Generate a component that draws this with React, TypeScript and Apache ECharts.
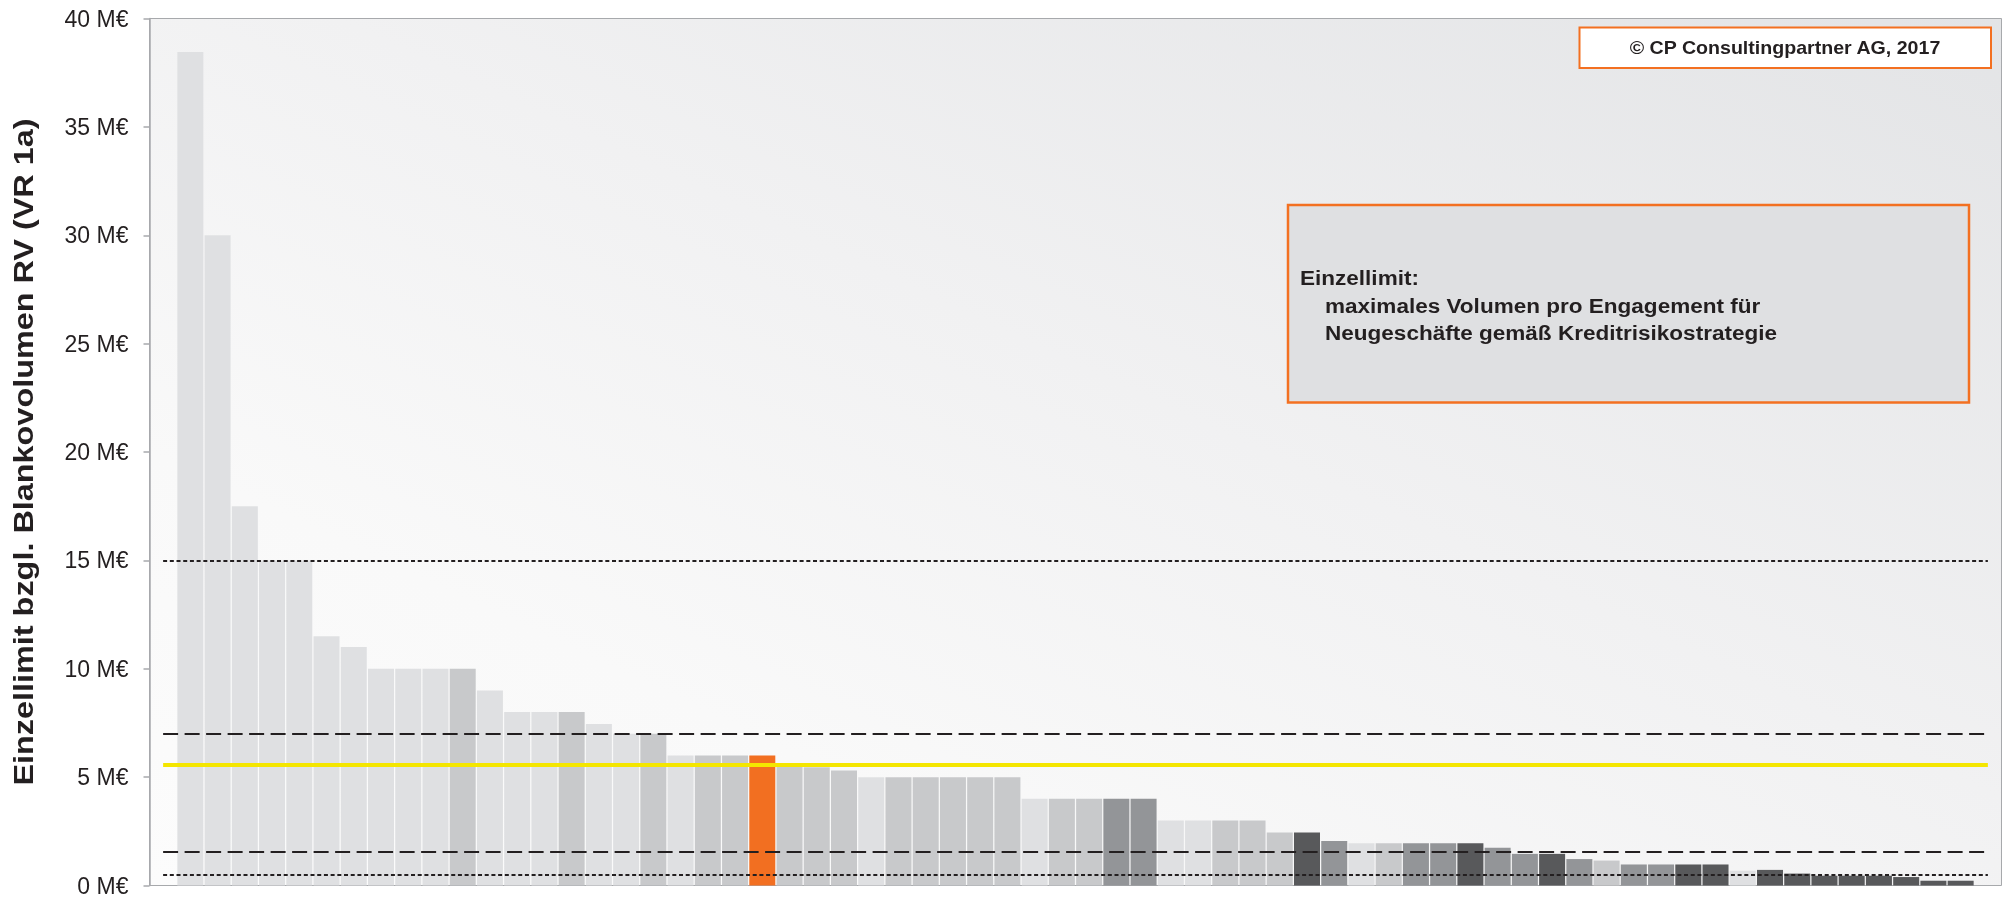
import { useEffect, useRef } from "react";
import * as echarts from "echarts";

// Engagements ranked by single limit (Einzellimit), in M€
const ranks = [
  "1", "2", "3", "4", "5", "6", "7", "8", "9", "10",
  "11", "12", "13", "14", "15", "16", "17", "18", "19", "20",
  "21", "22", "23", "24", "25", "26", "27", "28", "29", "30",
  "31", "32", "33", "34", "35", "36", "37", "38", "39", "40",
  "41", "42", "43", "44", "45", "46", "47", "48", "49", "50",
  "51", "52", "53", "54", "55", "56", "57", "58", "59", "60",
  "61", "62", "63", "64", "65", "66",
];

const limits = [
  38.45, 30, 17.5, 15, 15, 11.5, 11, 10, 10, 10,
  10, 9, 8, 8, 8, 7.45, 7, 7, 6, 6,
  6, 6, 5.6, 5.45, 5.3, 5, 5, 5, 5, 5,
  5, 4, 4, 4, 4, 4, 3, 3, 3, 3,
  2.45, 2.45, 2.05, 1.95, 1.95, 1.95, 1.95, 1.95, 1.74, 1.46,
  1.46, 1.22, 1.15, 0.97, 0.97, 0.97, 0.97, 0.68, 0.72, 0.55,
  0.45, 0.45, 0.45, 0.39, 0.22, 0.22,
];

// Shade group per engagement: L light, M medium, D dark, K darkest, O highlighted
const shades = [
  "L", "L", "L", "L", "L", "L", "L", "L", "L", "L",
  "M", "L", "L", "L", "M", "L", "L", "M", "L", "M",
  "M", "O", "M", "M", "M", "L", "M", "M", "M", "M",
  "M", "L", "M", "M", "D", "D", "L", "L", "M", "M",
  "M", "K", "D", "L", "M", "D", "D", "K", "D", "D",
  "K", "D", "M", "D", "D", "K", "K", "L", "K", "K",
  "K", "K", "K", "K", "K", "K",
];

const yTicks = [0, 5, 10, 15, 20, 25, 30, 35, 40];

// Reference levels across the chart
const dottedLevels = [15, 0.5];
const dashedLevels = [7, 1.55];
const meanLevel = 5.55;

const shadeColors: Record<string, string> = {
  L: "#dfe0e2",
  M: "#c8c9cb",
  D: "#939598",
  K: "#58595b",
  O: "#f26f21",
};

const yTitle = "Einzellimit bzgl. Blankovolumen RV (VR 1a)";
const copyrightText = "© CP Consultingpartner AG, 2017";
const noteTitle = "Einzellimit:";
const noteLines = [
  "maximales Volumen pro Engagement für",
  "Neugeschäfte gemäß Kreditrisikostrategie",
];

const FONT = "'Liberation Sans', Arial, Helvetica, sans-serif";

export default function App() {
  const ref = useRef<HTMLDivElement>(null);

  useEffect(() => {
    if (!ref.current) return;
    const chart = echarts.init(ref.current, null, { renderer: "svg" });

    // one empty slot at each end leaves room before the first and after the last bar
    const slots = [" ", ...ranks, "  "];
    const lastSlot = slots.length - 1;

    const barData: any[] = [
      "-",
      ...limits.map((v, i) => ({
        value: v,
        itemStyle: { color: shadeColors[shades[i]] },
      })),
      "-",
    ];

    const levelLine = (value: number, lineStyle: any) => [
      { coord: [0, value], lineStyle },
      { coord: [lastSlot, value] },
    ];

    const markLines = [
      ...dottedLevels.map((v) =>
        levelLine(v, { color: "#231f20", width: 2, type: [4, 2.7] })
      ),
      ...dashedLevels.map((v) =>
        levelLine(v, { color: "#231f20", width: 2.2, type: [15, 6.5] })
      ),
      levelLine(meanLevel, { color: "#f4e600", width: 4, type: "solid" }),
    ];

    const boldText = (
      text: string,
      x: number,
      y: number,
      fontSize: number,
      scaleX: number,
      align: string
    ) => ({
      type: "text",
      x,
      y,
      scaleX,
      style: {
        text,
        fontSize,
        fontWeight: "bold",
        fontFamily: FONT,
        fill: "#231f20",
        align,
        verticalAlign: "middle",
      },
    });

    chart.setOption({
      animation: false,
      grid: {
        left: 149.5,
        top: 18.5,
        width: 1852,
        height: 868,
        show: true,
        borderColor: "#a7a9ac",
        borderWidth: 1,
        backgroundColor: {
          type: "linear",
          x: 1,
          y: 0,
          x2: 0,
          y2: 1,
          colorStops: [
            { offset: 0, color: "#e3e4e6" },
            { offset: 0.45, color: "#f1f1f2" },
            { offset: 0.75, color: "#f9f9f9" },
            { offset: 1, color: "#fcfcfc" },
          ],
        },
      },
      xAxis: {
        type: "category",
        data: slots,
        boundaryGap: true,
        axisLine: { show: false },
        axisTick: { show: false },
        axisLabel: { show: false },
        splitLine: { show: false },
      },
      yAxis: {
        type: "value",
        min: yTicks[0],
        max: yTicks[yTicks.length - 1],
        interval: yTicks[1] - yTicks[0],
        axisLine: { show: true, lineStyle: { color: "#a7a9ac", width: 1.5 } },
        axisTick: { show: true, length: 6, lineStyle: { color: "#a7a9ac", width: 1.5 } },
        axisLabel: {
          formatter: "{value} M€",
          fontSize: 23,
          fontFamily: FONT,
          color: "#231f20",
          margin: 21,
        },
        splitLine: { show: false },
      },
      series: [
        {
          type: "bar",
          data: barData,
          barWidth: 26,
          markLine: {
            silent: true,
            symbol: "none",
            label: { show: false },
            data: markLines,
          },
        },
      ],
      graphic: [
        {
          type: "text",
          x: 23,
          y: 452,
          rotation: Math.PI / 2,
          scaleX: 1.2,
          style: {
            text: yTitle,
            fontSize: 27,
            fontWeight: "bold",
            fontFamily: FONT,
            fill: "#231f20",
            align: "center",
            verticalAlign: "middle",
          },
        },
        {
          type: "rect",
          shape: { x: 1579.5, y: 27.5, width: 411.5, height: 40.5 },
          style: { fill: "#ffffff", stroke: "#f37021", lineWidth: 2 },
        },
        boldText(copyrightText, 1785, 47.5, 18.5, 1.06, "center"),
        {
          type: "rect",
          shape: { x: 1288, y: 205, width: 681, height: 197.5 },
          style: { fill: "#dfe0e2", stroke: "#f37021", lineWidth: 2.5 },
        },
        boldText(noteTitle, 1300, 278.5, 20.5, 1.1, "left"),
        ...noteLines.map((line, i) =>
          boldText(line, 1325, 306 + i * 27.5, 20.5, 1.1, "left")
        ),
      ],
    });

    return () => chart.dispose();
  }, []);

  return (
    <div
      ref={ref}
      style={{ position: "fixed", left: 0, top: 0, width: 2010, height: 897 }}
    />
  );
}
